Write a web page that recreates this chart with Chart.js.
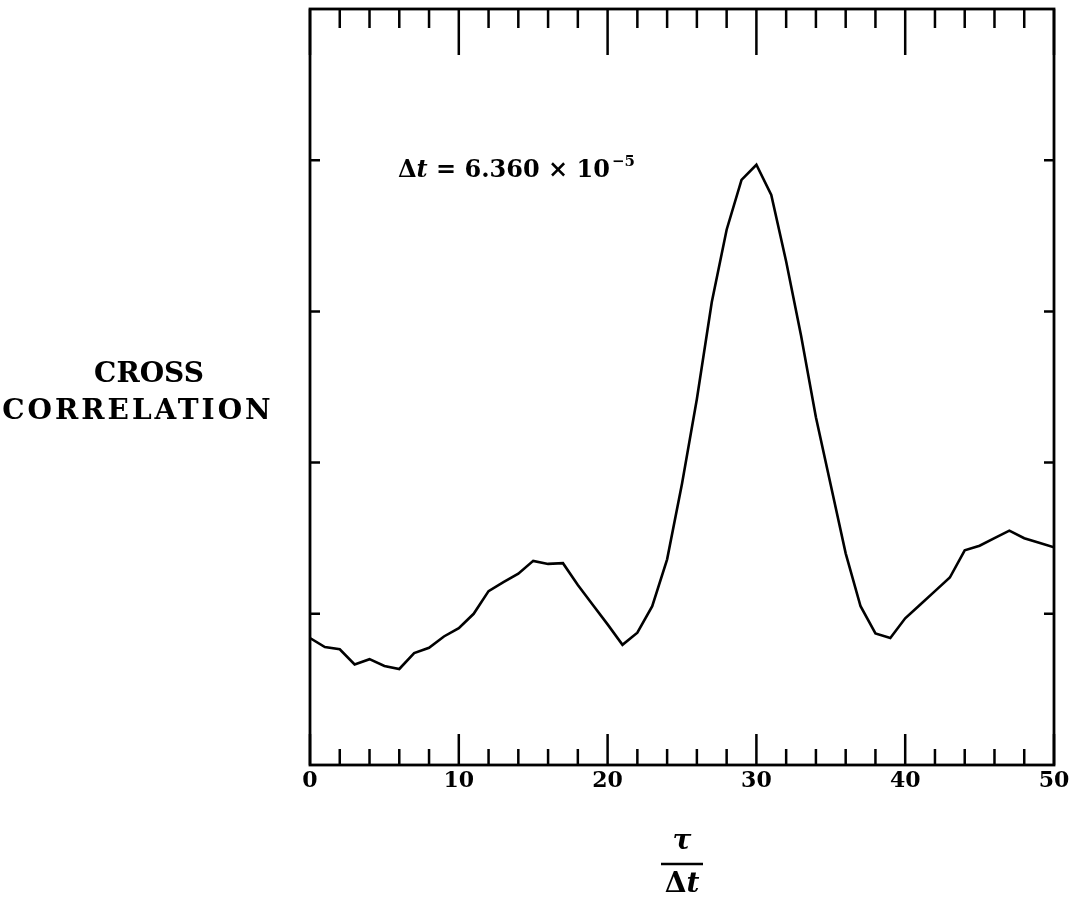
<!DOCTYPE html>
<html>
<head>
<meta charset="utf-8">
<script src="https://cdn.jsdelivr.net/npm/chart.js@4.4.1/dist/chart.umd.min.js"></script>
<style>
  html, body { margin: 0; padding: 0; background: #fff; }
  #wrap { position: relative; width: 1070px; height: 905px; }
</style>
</head>
<body>
<div id="wrap"><canvas id="chart"></canvas></div>
<script>
// lag tau / delta t
const lags = [0, 1, 2, 3, 4, 5, 6, 7, 8, 9, 10, 11, 12, 13, 14, 15, 16, 17, 18, 19, 20,
    21, 22, 23, 24, 25, 26, 27, 28, 29, 30, 31, 32, 33, 34, 35, 36, 37, 38, 39, 40,
    41, 42, 43, 44, 45, 46, 47, 48, 49, 50];
// cross correlation (arbitrary units, axis runs 0..5)
const crossCorr = [0.84, 0.78, 0.765, 0.665, 0.70, 0.655, 0.635, 0.74, 0.775, 0.85, 0.905,
    1.00, 1.15, 1.21, 1.265, 1.35, 1.33, 1.335, 1.19, 1.06, 0.93,
    0.795, 0.875, 1.05, 1.36, 1.86, 2.42, 3.06, 3.54, 3.87, 3.97,
    3.77, 3.33, 2.84, 2.30, 1.85, 1.40, 1.05, 0.87, 0.84, 0.97,
    1.06, 1.15, 1.24, 1.42, 1.45, 1.50, 1.55, 1.50, 1.47, 1.44];

const xMajorTicks = [0, 10, 20, 30, 40, 50];
const xMinorTicks = [2, 4, 6, 8, 12, 14, 16, 18, 22, 24, 26, 28, 32, 34, 36, 38, 42, 44, 46, 48];
const yTicks = [1, 2, 3, 4];
const yTitleLines = ['CROSS', 'CORRELATION'];
const noteText = 'Δt = 6.360 × 10';
const noteExp = '−5';

const serifBold = '"DejaVu Serif", "Liberation Serif", serif';

// frame, inward ticks and all the text
const framePlugin = {
    id: 'frame',
    afterDraw(chart) {
        const { ctx, chartArea: a, scales } = chart;
        const xs = scales.x, ys = scales.y;
        ctx.save();
        ctx.strokeStyle = '#000';
        ctx.lineWidth = 2.8;
        ctx.strokeRect(a.left, a.top, a.right - a.left, a.bottom - a.top);

        ctx.lineWidth = 2.5;
        ctx.beginPath();
        xMajorTicks.forEach(v => {
            const px = xs.getPixelForValue(v);
            ctx.moveTo(px, a.bottom); ctx.lineTo(px, a.bottom - 31);
            ctx.moveTo(px, a.top); ctx.lineTo(px, a.top + 46);
        });
        xMinorTicks.forEach(v => {
            const px = xs.getPixelForValue(v);
            ctx.moveTo(px, a.bottom); ctx.lineTo(px, a.bottom - 16);
            ctx.moveTo(px, a.top); ctx.lineTo(px, a.top + 19);
        });
        yTicks.forEach(v => {
            const py = ys.getPixelForValue(v);
            ctx.moveTo(a.left, py); ctx.lineTo(a.left + 10, py);
            ctx.moveTo(a.right, py); ctx.lineTo(a.right - 10, py);
        });
        ctx.stroke();

        ctx.fillStyle = '#000';
        // x tick labels
        ctx.font = 'bold 22px ' + serifBold;
        ctx.textAlign = 'center';
        ctx.textBaseline = 'middle';
        xMajorTicks.forEach(v => {
            ctx.fillText(String(v), xs.getPixelForValue(v), a.bottom + 16);
        });

        // y title
        ctx.font = 'bold 28px ' + serifBold;
        ctx.fillText(yTitleLines[0], 149, 375);
        ctx.letterSpacing = '3px';
        ctx.fillText(yTitleLines[1], 138, 412);
        ctx.letterSpacing = '0px';

        // x title: tau over delta t
        const cx = (a.left + a.right) / 2;
        ctx.font = 'italic bold 28px ' + serifBold;
        ctx.fillText('τ', cx, 842);
        ctx.lineWidth = 2.5;
        ctx.beginPath();
        ctx.moveTo(cx - 21, 864); ctx.lineTo(cx + 21, 864);
        ctx.stroke();
        ctx.font = 'bold 28px ' + serifBold;
        const dW = ctx.measureText('Δ').width;
        ctx.font = 'italic bold 28px ' + serifBold;
        const tW = ctx.measureText('t').width;
        const sx = cx - (dW + tW) / 2;
        ctx.textAlign = 'left';
        ctx.font = 'bold 28px ' + serifBold;
        ctx.fillText('Δ', sx, 885);
        ctx.font = 'italic bold 28px ' + serifBold;
        ctx.fillText('t', sx + dW, 885);

        // annotation
        ctx.textBaseline = 'alphabetic';
        let nx = 398;
        const ny = 177;
        ctx.font = 'bold 24px ' + serifBold;
        ctx.fillText('Δ', nx, ny);
        nx += ctx.measureText('Δ').width;
        ctx.font = 'italic bold 24px ' + serifBold;
        ctx.fillText('t', nx, ny);
        nx += ctx.measureText('t').width;
        ctx.font = 'bold 24px ' + serifBold;
        const rest = noteText.slice(2);
        ctx.fillText(rest, nx, ny);
        nx += ctx.measureText(rest).width + 2;
        ctx.font = 'bold 15px ' + serifBold;
        ctx.fillText(noteExp, nx, ny - 11);
        ctx.restore();
    }
};

new Chart(document.getElementById('chart'), {
    type: 'line',
    data: {
        labels: lags,
        datasets: [{
            data: crossCorr,
            borderColor: '#000',
            borderWidth: 2.6,
            pointRadius: 0,
            tension: 0,
            fill: false
        }]
    },
    options: {
        responsive: true,
        maintainAspectRatio: false,
        animation: false,
        layout: { padding: { left: 310, right: 16, top: 9, bottom: 140 } },
        scales: {
            x: { type: 'linear', min: 0, max: 50, display: false },
            y: { min: 0, max: 5, display: false }
        },
        plugins: {
            legend: { display: false },
            tooltip: { enabled: false }
        }
    },
    plugins: [framePlugin]
});
</script>
</body>
</html>
